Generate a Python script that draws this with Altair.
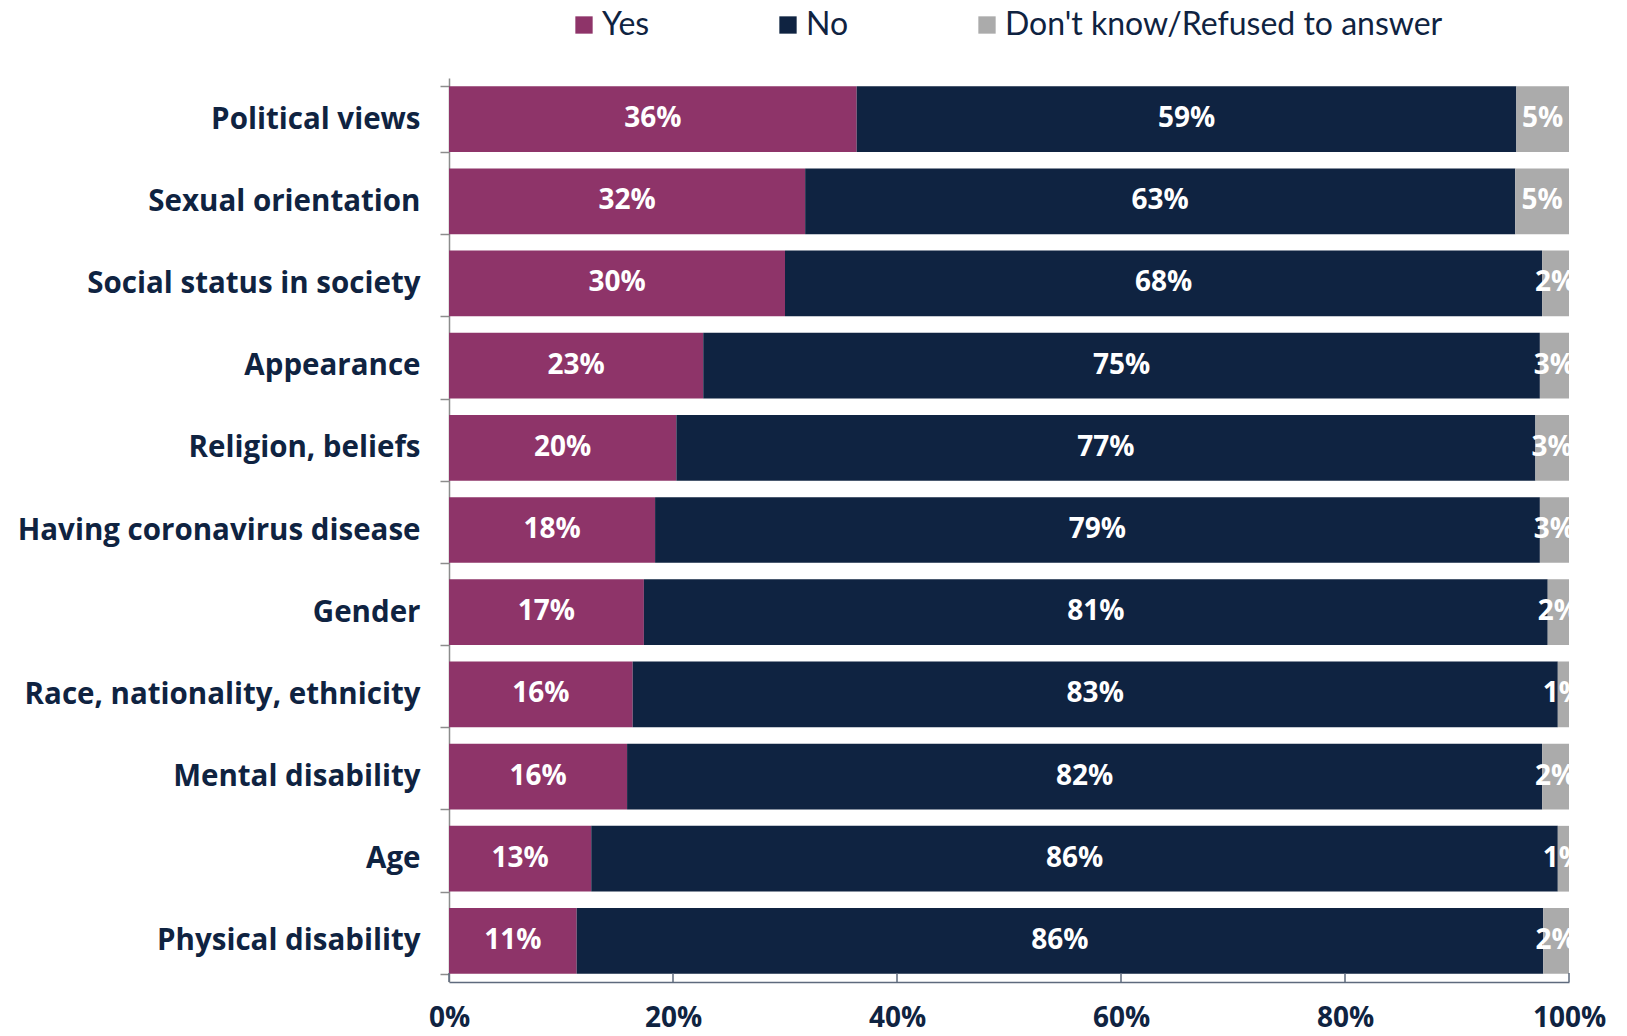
import altair as alt
import pandas as pd

categories = ["Political views", "Sexual orientation", "Social status in society",
              "Appearance", "Religion, beliefs", "Having coronavirus disease",
              "Gender", "Race, nationality, ethnicity", "Mental disability",
              "Age", "Physical disability"]
yes_vals = [36.4, 31.8, 30.0, 22.7, 20.3, 18.4, 17.4, 16.4, 15.9, 12.7, 11.4]
no_vals = [58.9, 63.4, 67.6, 74.7, 76.7, 79.0, 80.7, 82.6, 81.7, 86.3, 86.3]
dk_vals = [4.7, 4.8, 2.4, 2.6, 3.0, 2.6, 1.9, 1.0, 2.4, 1.0, 2.3]
series = ["Yes", "No", "Don't know/Refused to answer"]
colors = ["#8E3469", "#0F2341", "#ABABAB"]
x_ticks = [0, 20, 40, 60, 80, 100]

rows = []
for i, c in enumerate(categories):
    for k, (s, vals) in enumerate(zip(series, [yes_vals, no_vals, dk_vals])):
        rows.append({"category": c, "series": s, "value": vals[i], "order": k})
df = pd.DataFrame(rows)

FONT = "Open Sans"
NAVY = "#0F2341"

base = alt.Chart(df).transform_stack(
    stack="value", groupby=["category"], as_=["x0", "x1"],
    sort=[alt.SortField("order", order="ascending")]
).transform_calculate(
    mid="(datum.x0 + datum.x1) / 2",
    label="format(datum.value, '.0f') + '%'"
)

y_enc = alt.Y("category:N", sort=categories, title=None,
              scale=alt.Scale(paddingInner=0.2, paddingOuter=0.1),
              axis=alt.Axis(labelFont=FONT, labelFontSize=29.5, labelFontWeight="bold",
                            labelColor=NAVY, domainColor="#8C8C8C", tickColor="#8C8C8C",
                            tickSize=9, labelPadding=20, tickBand="extent",
                            labelLimit=0,
                            domainWidth=1.5, tickWidth=1.5))

bars = base.mark_bar().encode(
    x=alt.X("x0:Q", title=None,
            scale=alt.Scale(domain=[0, 100], nice=False),
            axis=alt.Axis(values=x_ticks, labelExpr="datum.value + '%'",
                          labelFont=FONT, labelFontSize=28, labelFontWeight="bold",
                          labelColor=NAVY, grid=False, ticks=False, labelFlush=False,
                          labelBound=False, labelOverlap=False,
                          domainColor="#5E6A7D", domainWidth=1.5, labelPadding=22)),
    x2="x1:Q",
    y=y_enc,
    color=alt.Color("series:N", sort=series,
                    scale=alt.Scale(domain=series, range=colors),
                    legend=alt.Legend(title=None, orient="none", direction="horizontal",
                                      legendX=119, legendY=-69,
                                      symbolType="square", symbolSize=300,
                                      symbolStrokeWidth=0, symbolOpacity=1,
                                      labelFont="Lato", labelFontSize=32,
                                      labelColor=NAVY, columnPadding=122,
                                      labelLimit=0, labelOffset=2)),
    order=alt.Order("order:Q"),
)

texts = base.mark_text(color="white", font=FONT, fontSize=28, fontWeight="bold",
                       baseline="middle", align="center").encode(
    x=alt.X("mid:Q"),
    y=alt.Y("category:N", sort=categories),
    text="label:N",
)

tick_df = pd.DataFrame({"t": x_ticks})
ticks = alt.Chart(tick_df).mark_rule(color="#5E6A7D", strokeWidth=1.5).encode(
    x=alt.X("t:Q"),
    y=alt.value(895),
    y2=alt.value(904),
)

chart = alt.layer(bars, texts, ticks).properties(
    width=1120, height=904,
    autosize=alt.AutoSizeParams(type="none"),
    padding={"left": 441, "top": 70, "right": 50, "bottom": 54},
).configure_view(stroke=None)

chart.save("out.html", embed_options={"renderer": "svg", "actions": False})
